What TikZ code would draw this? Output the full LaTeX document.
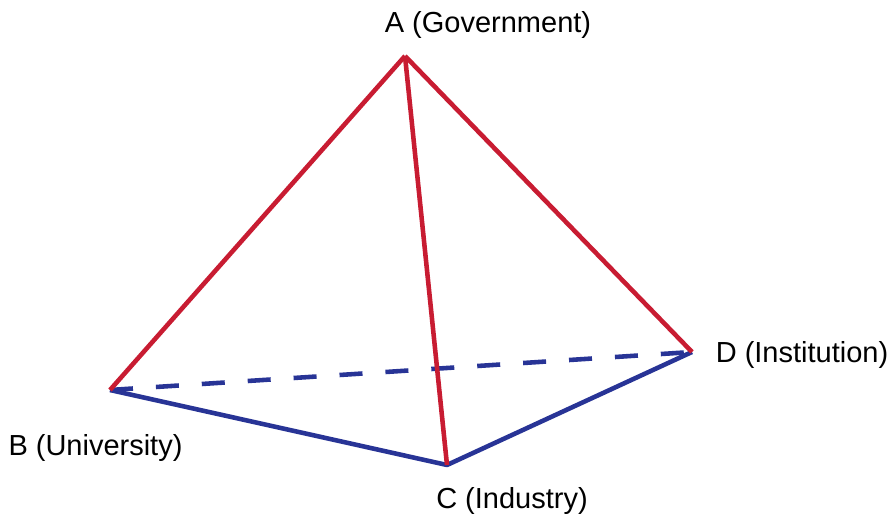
\documentclass[tikz,border=0pt]{standalone}
\usepackage{fontspec}
\setmainfont{Liberation Sans}
\usetikzlibrary{positioning}

\definecolor{edgered}{RGB}{200,28,50}
\definecolor{edgeblue}{RGB}{40,52,150}

\begin{document}
\begin{tikzpicture}[
        redline/.style={draw=edgered, line width=2.6pt, line join=round},
        blueline/.style={draw=edgeblue, line width=2.6pt, line join=round},
        hiddenline/.style={blueline, dash pattern=on 0.46cm off 0.46cm},
        vlabel/.style={inner sep=0pt, font=\fontsize{16.5}{19}\selectfont}
    ]
        \useasboundingbox (0,0) rectangle (17.86,10.34);
        % corners of the tetrahedron
        \coordinate (gov) at (8.10,9.22);
        \coordinate (uni) at (2.20,2.54);
        \coordinate (ind) at (8.94,1.04);
        \coordinate (inst) at (13.84,3.30);
        % labels
        \node[vlabel] (govlabel) at (9.76,9.84) {A (Government)};
        \node[vlabel] (unilabel) at (1.91,1.38) {B (University)};
        \node[vlabel] (indlabel) at (10.24,0.32) {C (Industry)};
        \node[vlabel] (instlabel) at (16.04,3.24) {D (Institution)};
        % edges
        \draw[hiddenline] (uni) -- (inst);
        \draw[blueline] (uni) -- (ind) -- (inst);
        \draw[redline] (uni) -- (gov);
        \draw[redline] (gov) -- (inst);
        \draw[redline] (gov) -- (ind);
    \end{tikzpicture}
\end{document}
